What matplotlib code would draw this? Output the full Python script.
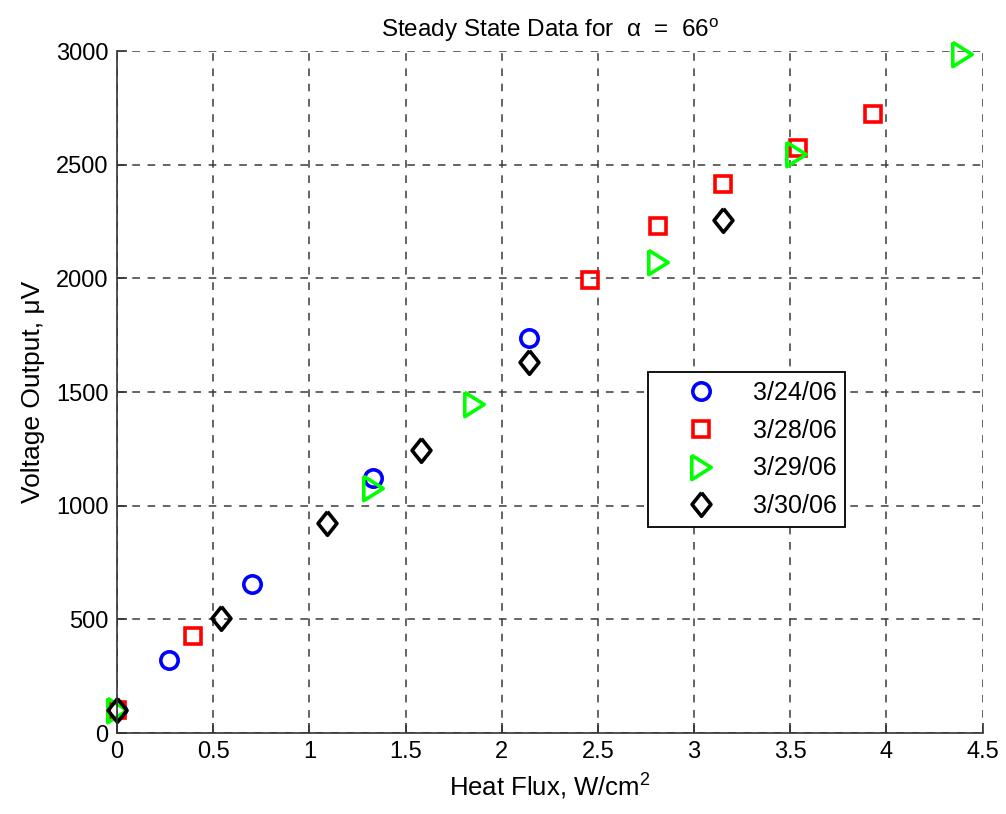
import matplotlib
matplotlib.use("Agg")
import matplotlib.pyplot as plt

plt.rcParams['font.family'] = ['Liberation Sans', 'DejaVu Sans']
plt.rcParams['mathtext.fontset'] = 'custom'
plt.rcParams['mathtext.rm'] = 'Liberation Sans'
plt.rcParams['mathtext.it'] = 'Liberation Sans:italic'

# steady state runs, heat flux (W/cm^2) vs voltage (uV)
flux_0324 = [0.0, 0.27, 0.70, 1.33, 2.14]
volt_0324 = [100, 321, 655, 1122, 1738]

flux_0328 = [0.0, 0.395, 2.46, 2.81, 3.15, 3.54, 3.93]
volt_0328 = [101, 427, 1993, 2231, 2415, 2574, 2723]

flux_0329 = [0.0, 1.33, 1.855, 2.81, 3.53, 4.39]
volt_0329 = [100, 1078, 1447, 2072, 2547, 2987]

flux_0330 = [0.0, 0.54, 1.09, 1.58, 2.14, 3.15]
volt_0330 = [100, 506, 924, 1245, 1632, 2257]

# matlab-style marker shapes (taller than wide)
tri_right = [(-0.8, 1), (0.8, 0), (-0.8, -1), (-0.8, 1)]
diamond = [(0, 1), (0.8, 0), (0, -1), (-0.8, 0), (0, 1)]

fig = plt.figure(figsize=(10.06, 8.14), dpi=100)
ax = fig.add_axes([0.1163, 0.0995, 0.8605, 0.8378])

mew = 2.6
ax.plot(flux_0324, volt_0324, 'o', ms=12.5, mew=mew, mfc='none', mec='#0000ff',
        label='3/24/06', clip_on=False)
ax.plot(flux_0328, volt_0328, 's', ms=11.5, mew=mew, mfc='none', mec='#ff0000',
        label='3/28/06', clip_on=False)
ax.plot(flux_0329, volt_0329, marker=tri_right, ls='none', ms=17.5, mew=mew, mfc='none',
        mec='#00ff00', label='3/29/06', clip_on=False)
ax.plot(flux_0330, volt_0330, marker=diamond, ls='none', ms=17, mew=mew, mfc='none',
        mec='#000000', label='3/30/06', clip_on=False)

ax.set_xlim(0, 4.5)
ax.set_ylim(0, 3000)
ax.set_xticks([0, 0.5, 1, 1.5, 2, 2.5, 3, 3.5, 4, 4.5])
ax.set_xticklabels(['0', '0.5', '1', '1.5', '2', '2.5', '3', '3.5', '4', '4.5'])
ax.set_yticks(range(0, 3001, 500))

ax.grid(True, color='#3a3a3a', linestyle=(0, (5, 5)), linewidth=1.1)
ax.set_axisbelow(True)
ax.spines['top'].set_visible(False)
ax.spines['right'].set_visible(False)
ax.spines['left'].set_color('#333333')
ax.spines['bottom'].set_color('#333333')
ax.spines['left'].set_linewidth(1.2)
ax.spines['bottom'].set_linewidth(1.2)
ax.tick_params(direction='in', length=7, width=1.2, labelsize=17, pad=6,
               colors='#333333', labelcolor='black')

ax.set_title('Steady State Data for  α  =  66$^{\\rm o}$', fontsize=17.5, pad=10)
ax.set_xlabel(r'Heat Flux, W/cm$^{2}$', fontsize=18.5, labelpad=6)
ax.set_ylabel('Voltage Output, μV', fontsize=19, labelpad=8)

leg = ax.legend(loc='upper left', bbox_to_anchor=(0.613, 0.529), fontsize=18,
                frameon=True, fancybox=False, borderpad=0.35, labelspacing=0.55,
                handletextpad=0.25, handlelength=3.6, borderaxespad=0)
leg.get_frame().set_edgecolor('black')
leg.get_frame().set_linewidth(1.3)
leg.get_frame().set_alpha(1)

fig.savefig('out.png', dpi=100)
